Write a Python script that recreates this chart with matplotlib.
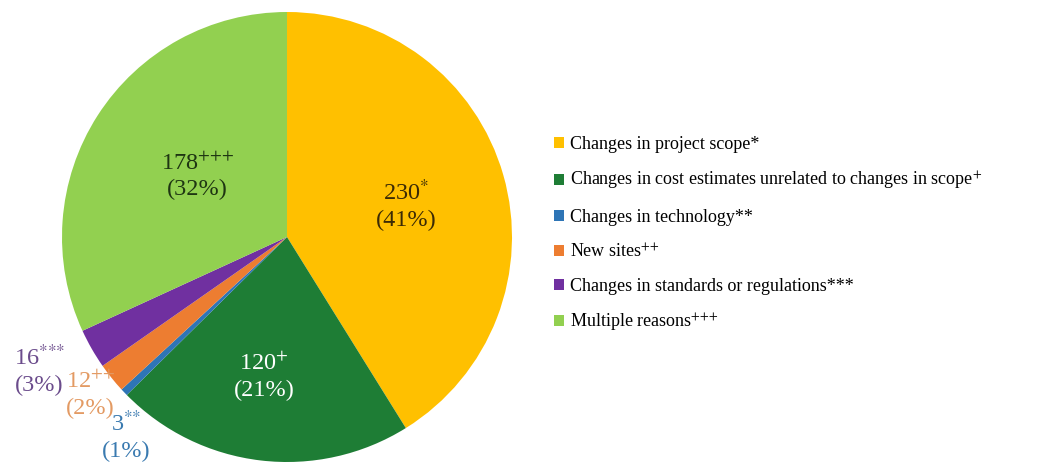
import numpy as np
import matplotlib
matplotlib.use('Agg')
import matplotlib.pyplot as plt
from matplotlib.patches import Patch

plt.rcParams['font.family'] = ['Liberation Serif', 'DejaVu Serif']
plt.rcParams['mathtext.fontset'] = 'stix'

# data
categories = ['Changes in project scope*',
              'Changes in cost estimates unrelated to changes in scope$^{+}$',
              'Changes in technology**',
              'New sites$^{{+}{+}}$',
              'Changes in standards or regulations***',
              'Multiple reasons$^{{+}{+}{+}}$']
counts = [230, 120, 3, 12, 16, 178]
marks = ['$^{*}$', '$^{+}$', '$^{{*}{*}}$', '$^{{+}{+}}$', '$^{{*}{*}{*}}$', '$^{{+}{+}{+}}$']
pcts = ['41%', '21%', '1%', '2%', '3%', '32%']

colors = ['#FFC000', '#1E7D35', '#2E75B6', '#ED7D31', '#7030A0', '#92D050']
text_colors = ['#3B2A05', 'white', '#3A7AB0', '#E39A63', '#6B4C8C', '#1E3512']
# label placement: radius (fraction of pie radius) and angle shift in degrees
label_r = [0.55, 0.63, 1.14, 1.12, 1.25, 0.48]
label_shift = [-1.0, -2.5, 7.5, 0.0, -1.5, -1.5]

fig = plt.figure(figsize=(10.44, 4.63), dpi=100)
W, H = 1044, 463
cx, cy, R = 287, 237, 225
ax = fig.add_axes([(cx - R) / W, (H - cy - R) / H, 2 * R / W, 2 * R / H])
wedges, _ = ax.pie(counts, colors=colors, startangle=90, counterclock=False,
                   radius=1.0, wedgeprops=dict(linewidth=0))
ax.set_xlim(-1, 1)
ax.set_ylim(-1, 1)
ax.set_aspect('equal')

for w, n, m, p, tc, r, s in zip(wedges, counts, marks, pcts, text_colors, label_r, label_shift):
    ang = np.deg2rad((w.theta1 + w.theta2) / 2 + s)
    x, y = r * np.cos(ang), r * np.sin(ang)
    ax.text(x, y, f'{n}{m}\n({p})', ha='center', va='center', color=tc,
            fontsize=17.5, linespacing=1.3, clip_on=False)

handles = [Patch(facecolor=c, edgecolor='none') for c in colors]
fig.legend(handles, categories, loc='center left', bbox_to_anchor=(538 / W, 1 - 235 / H),
           frameon=False, fontsize=13, handlelength=0.55, handleheight=0.55,
           handletextpad=0.35, labelspacing=0.92)

fig.savefig('out.png', dpi=100)
